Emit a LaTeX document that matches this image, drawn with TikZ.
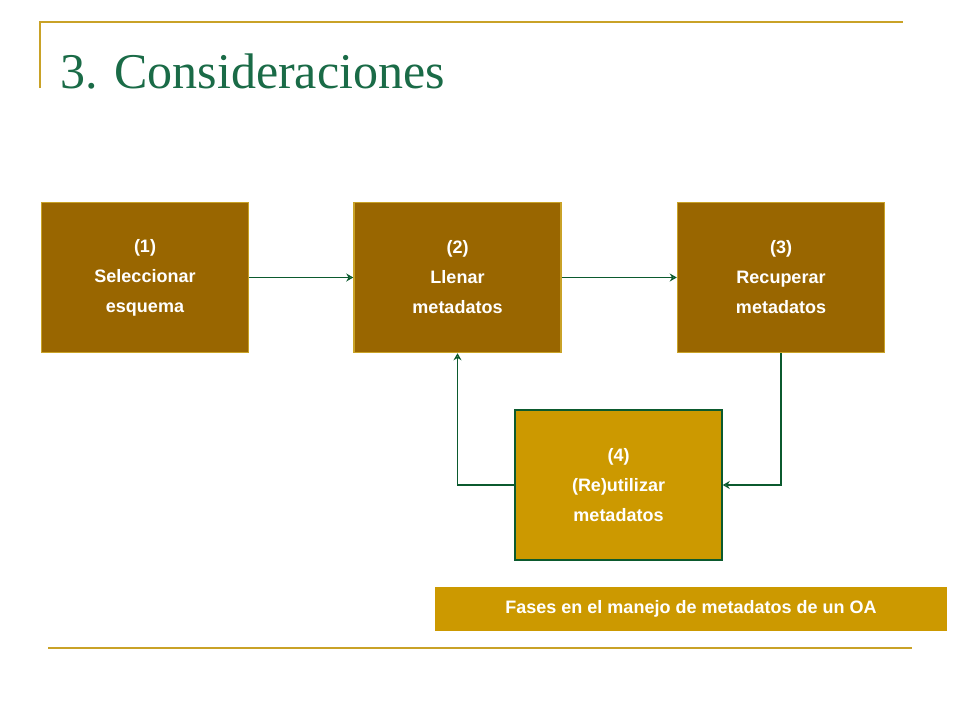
\documentclass[tikz,border=0pt]{standalone}
\usepackage{fontspec}
\setmainfont{Liberation Sans}
\newfontfamily\titlefont{Liberation Serif}
\usetikzlibrary{arrows.meta}
\definecolor{olive}{HTML}{C9A227}
\definecolor{brownbox}{HTML}{996600}
\definecolor{goldbox}{HTML}{CC9900}
\definecolor{dgreen}{HTML}{0B5A2E}
\definecolor{titlegreen}{HTML}{1A6B47}
\tikzset{
 stepbox/.style={draw=olive,line width=1.5pt,fill=brownbox,minimum width=207pt,minimum height=150pt,text=white,font=\bfseries\fontsize{18}{30}\selectfont,align=center,inner sep=0pt},
 conn/.style={draw=dgreen,line width=1.5pt,-{Stealth[open,length=7pt,width=8pt]}},
}
\begin{document}
\begin{tikzpicture}[x=1pt,y=-1pt]
\useasboundingbox[fill=white] (0,0) rectangle (960,720);
\draw[olive,line width=1.5pt] (40,88) -- (40,22) -- (903,22);
\draw[olive,line width=1.5pt] (48,648) -- (912,648);
\node[anchor=base west,inner sep=0pt,text=titlegreen,font=\titlefont\fontsize{50}{50}\selectfont] (title) at (60,88) {3. Consideraciones};
\node[stepbox] (s1) at (145,277.5) {(1)\\Seleccionar\\esquema};
\node[stepbox] (s2) at (457.5,277.5) {(2)\\Llenar\\metadatos};
\node[stepbox] (s3) at (781,277.5) {(3)\\Recuperar\\metadatos};
\node[stepbox,draw=dgreen,fill=goldbox] (s4) at (618.5,485) {(4)\\(Re)utilizar\\metadatos};
\node[fill=goldbox,text=white,font=\bfseries\fontsize{18}{22}\selectfont,minimum width=512pt,minimum height=44pt,inner sep=0pt] (cap) at (691,609) {Fases en el manejo de metadatos de un OA};
\draw[conn] (s1) -- (s2);
\draw[conn] (s2) -- (s3);
\draw[conn] (s3.south) |- (s4.east);
\draw[conn] (s4.west) -| (s2.south);
\end{tikzpicture}
\end{document}
